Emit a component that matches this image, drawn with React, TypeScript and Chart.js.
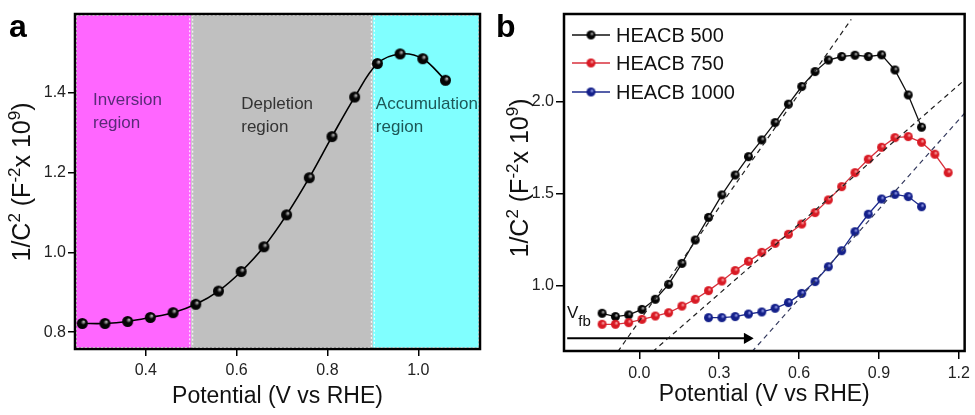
import React, { useEffect, useRef } from 'react';
import { Chart, registerables } from 'chart.js';

Chart.register(...registerables);

// ---- panel a data ----
const A_X = [0.26, 0.31, 0.36, 0.41, 0.46, 0.51, 0.56, 0.61, 0.66, 0.71, 0.76, 0.81, 0.86, 0.91, 0.96, 1.01, 1.06];
const A_Y = [0.822, 0.822, 0.827, 0.837, 0.849, 0.87, 0.903, 0.952, 1.014, 1.094, 1.187, 1.29, 1.389, 1.473, 1.497, 1.485, 1.431];
const A_XTICKS = [0.4, 0.6, 0.8, 1.0];
const A_YTICKS = [0.8, 1.0, 1.2, 1.4];
const REGION_EDGES = [0.244, 0.5, 0.9, 1.136];
const REGION_COLORS = ['#ff66ff', '#c0c0c0', '#80ffff'];
const REGION_TEXT = ['#5a2a78', '#333333', '#1d5858'];
const REGION_LABELS = [['Inversion', 'region'], ['Depletion', 'region'], ['Accumulation', 'region']];

// ---- panel b data ----
const B_X500 = [-0.14, -0.09, -0.04, 0.01, 0.06, 0.11, 0.16, 0.21, 0.26, 0.31, 0.36, 0.41, 0.46, 0.51, 0.56, 0.61, 0.66, 0.71, 0.76, 0.81, 0.86, 0.91, 0.96, 1.01, 1.06];
const B_Y500 = [0.85, 0.832, 0.841, 0.871, 0.926, 1.007, 1.121, 1.248, 1.371, 1.493, 1.601, 1.701, 1.792, 1.886, 1.986, 2.082, 2.163, 2.226, 2.245, 2.252, 2.245, 2.254, 2.172, 2.036, 1.861];
const B_X750 = [-0.14, -0.09, -0.04, 0.01, 0.06, 0.11, 0.16, 0.21, 0.26, 0.31, 0.36, 0.41, 0.46, 0.51, 0.56, 0.61, 0.66, 0.71, 0.76, 0.81, 0.86, 0.91, 0.96, 1.01, 1.06, 1.11, 1.16];
const B_Y750 = [0.79, 0.79, 0.799, 0.817, 0.835, 0.853, 0.889, 0.926, 0.973, 1.025, 1.082, 1.132, 1.181, 1.23, 1.279, 1.335, 1.397, 1.466, 1.538, 1.614, 1.687, 1.752, 1.804, 1.81, 1.779, 1.714, 1.614];
const B_X1000 = [0.26, 0.31, 0.36, 0.41, 0.46, 0.51, 0.56, 0.61, 0.66, 0.71, 0.76, 0.81, 0.86, 0.91, 0.96, 1.01, 1.06];
const B_Y1000 = [0.826, 0.826, 0.832, 0.846, 0.857, 0.877, 0.908, 0.958, 1.022, 1.103, 1.19, 1.293, 1.388, 1.471, 1.496, 1.484, 1.429];
const FIT_500 = [[-0.081, 0.641], [0.796, 2.447]];
const FIT_750 = [[0.05, 0.641], [1.222, 2.118]];
const FIT_1000 = [[0.423, 0.641], [1.222, 1.937]];
const VFB_ARROW = [[-0.271, 0.714], [0.405, 0.714]];
const B_XTICKS = [0.0, 0.3, 0.6, 0.9, 1.2];
const B_YTICKS = [1.0, 1.5, 2.0];
const SERIES_NAMES = ['HEACB 500', 'HEACB 750', 'HEACB 1000'];

const FONT = '"Liberation Sans", Arial, sans-serif';

const zip = (xs: number[], ys: number[]) => xs.map((x, i) => ({ x, y: ys[i] }));
const pts = (p: number[][]) => p.map(([x, y]) => ({ x, y }));

// small shaded ball used as point marker
function makeBall(r: number, base: string, hi: string) {
  const c = document.createElement('canvas');
  const s = Math.ceil(r * 2 + 2);
  c.width = s;
  c.height = s;
  const g = c.getContext('2d')!;
  const cx = s / 2;
  const grad = g.createRadialGradient(cx + r * 0.3, cx - r * 0.35, 0, cx, cx, r);
  grad.addColorStop(0, hi);
  grad.addColorStop(0.45, base);
  grad.addColorStop(1, base);
  g.fillStyle = grad;
  g.beginPath();
  g.arc(cx, cx, r, 0, Math.PI * 2);
  g.fill();
  return c;
}

type Part = { t: string; sup?: boolean; sub?: boolean; size?: number };

function drawRich(ctx: CanvasRenderingContext2D, parts: Part[], size: number, x: number, y: number, center: boolean) {
  const fs = (p: Part) => p.size ?? (p.sup || p.sub ? Math.round(size * 0.66) : size);
  const widths = parts.map((p) => {
    ctx.font = `${fs(p)}px ${FONT}`;
    return ctx.measureText(p.t).width;
  });
  const total = widths.reduce((a, b) => a + b, 0);
  let cx = center ? x - total / 2 : x;
  ctx.textBaseline = 'alphabetic';
  ctx.textAlign = 'left';
  parts.forEach((p, i) => {
    ctx.font = `${fs(p)}px ${FONT}`;
    const dy = p.sup ? -size * 0.42 : p.sub ? size * 0.45 : 0;
    ctx.fillText(p.t, cx, y + dy);
    cx += widths[i];
  });
}

const Y_TITLE: Part[] = [
  { t: '1/C' }, { t: '2', sup: true }, { t: ' (F' }, { t: '-2', sup: true }, { t: 'x 10' }, { t: '9', sup: true }, { t: ')' },
];

function axisTitles(id: string, letter: string, xTitleY: number, yBase: number, yMid: number) {
  return {
    id,
    afterDraw(chart: any) {
      const { ctx, chartArea } = chart;
      ctx.save();
      ctx.fillStyle = '#111';
      ctx.font = `23px ${FONT}`;
      ctx.textAlign = 'center';
      ctx.textBaseline = 'middle';
      ctx.fillText('Potential (V vs RHE)', (chartArea.left + chartArea.right) / 2, xTitleY);
      ctx.save();
      ctx.translate(yBase, yMid);
      ctx.rotate(-Math.PI / 2);
      drawRich(ctx, Y_TITLE, 25, 0, 0, true);
      ctx.restore();
      ctx.font = `bold 32px ${FONT}`;
      ctx.textAlign = 'left';
      ctx.textBaseline = 'alphabetic';
      ctx.fillStyle = '#000';
      ctx.fillText(letter, 9, 37);
      // frame
      ctx.strokeStyle = '#000';
      ctx.lineWidth = 2.5;
      ctx.strokeRect(chartArea.left, chartArea.top, chartArea.right - chartArea.left, chartArea.bottom - chartArea.top);
      ctx.restore();
    },
  };
}

function axes(xMin: number, xMax: number, yMin: number, yMax: number, xt: number[], yt: number[], yWidth: number, xHeight: number, tl: number) {
  const grid = { drawOnChartArea: false, drawTicks: true, tickLength: tl, color: '#000', lineWidth: 1.5 };
  return {
    x: {
      type: 'linear',
      min: xMin,
      max: xMax,
      border: { display: false },
      grid,
      afterBuildTicks: (s: any) => { s.ticks = xt.map((v) => ({ value: v })); },
      afterFit: (s: any) => { s.height = xHeight; },
      ticks: { color: '#222', padding: 5, font: { family: FONT, size: 16 }, callback: (v: any) => Number(v).toFixed(1) },
    },
    y: {
      type: 'linear',
      min: yMin,
      max: yMax,
      border: { display: false },
      grid,
      afterBuildTicks: (s: any) => { s.ticks = yt.map((v) => ({ value: v })); },
      afterFit: (s: any) => { s.width = yWidth; },
      ticks: { color: '#222', padding: 2, font: { family: FONT, size: 16 }, callback: (v: any) => Number(v).toFixed(1) },
    },
  };
}

const PanelA: React.FC = () => {
  const ref = useRef<HTMLCanvasElement>(null);
  useEffect(() => {
    if (!ref.current) return;
    const ball = makeBall(5.5, '#050505', '#d8d8d8');
    const regions = {
      id: 'regions',
      beforeDatasetsDraw(chart: any) {
        const { ctx, chartArea, scales } = chart;
        ctx.save();
        for (let i = 0; i < REGION_COLORS.length; i++) {
          const x0 = scales.x.getPixelForValue(REGION_EDGES[i]);
          const x1 = scales.x.getPixelForValue(REGION_EDGES[i + 1]);
          ctx.fillStyle = REGION_COLORS[i];
          ctx.fillRect(x0, chartArea.top, x1 - x0, chartArea.bottom - chartArea.top);
          ctx.setLineDash([2, 2]);
          ctx.strokeStyle = '#ffffff';
          ctx.lineWidth = 1;
          ctx.strokeRect(x0 + 1.5, chartArea.top + 1.5, x1 - x0 - 3, chartArea.bottom - chartArea.top - 3);
          ctx.setLineDash([]);
        }
        const offs = [18, 50, 3];
        const base = [105, 109, 109];
        ctx.font = `17px ${FONT}`;
        ctx.textAlign = 'left';
        ctx.textBaseline = 'alphabetic';
        REGION_LABELS.forEach((lines, i) => {
          const x0 = scales.x.getPixelForValue(REGION_EDGES[i]) + offs[i];
          ctx.fillStyle = REGION_TEXT[i];
          lines.forEach((s, j) => ctx.fillText(s, x0, base[i] + j * 23));
        });
        ctx.restore();
      },
    };
    const chart = new Chart(ref.current, {
      type: 'scatter',
      data: {
        datasets: [
          {
            data: zip(A_X, A_Y),
            showLine: true,
            borderColor: '#000',
            borderWidth: 1.6,
            tension: 0.35,
            pointStyle: ball as any,
            pointRadius: 5,
          },
        ],
      },
      options: {
        responsive: false,
        animation: false,
        layout: { padding: { top: 14, right: 7, left: 0, bottom: 0 } },
        plugins: { legend: { display: false }, tooltip: { enabled: false } },
        scales: axes(REGION_EDGES[0], REGION_EDGES[3], 0.758, 1.597, A_XTICKS, A_YTICKS, 75, 66, 7) as any,
      },
      plugins: [regions, axisTitles('titlesA', 'a', 397, 30, 182)],
    });
    return () => chart.destroy();
  }, []);
  return <canvas ref={ref} width={487} height={415} style={{ position: 'absolute', left: 0, top: 0 }} />;
};

const PanelB: React.FC = () => {
  const ref = useRef<HTMLCanvasElement>(null);
  useEffect(() => {
    if (!ref.current) return;
    const balls = [
      makeBall(4.5, '#050505', '#d0d0d0'),
      makeBall(4.5, '#d81a24', '#ffc0c0'),
      makeBall(4.5, '#14208a', '#b0b8ff'),
    ];
    const lineColors = ['#111111', '#d8303c', '#1c2a8c'];
    const legend = {
      id: 'legendB',
      afterDraw(chart: any) {
        const { ctx } = chart;
        ctx.save();
        const rows = [35, 63, 92];
        SERIES_NAMES.forEach((name, i) => {
          ctx.strokeStyle = lineColors[i];
          ctx.lineWidth = 1.5;
          ctx.beginPath();
          ctx.moveTo(85, rows[i]);
          ctx.lineTo(123, rows[i]);
          ctx.stroke();
          const b = balls[i];
          ctx.drawImage(b, 104 - b.width / 2, rows[i] - b.height / 2);
          ctx.fillStyle = '#111';
          ctx.font = `20px ${FONT}`;
          ctx.textAlign = 'left';
          ctx.textBaseline = 'middle';
          ctx.fillText(name, 129, rows[i] + 1);
        });
        ctx.fillStyle = '#111';
        drawRich(ctx, [{ t: 'V' }, { t: 'fb', sub: true, size: 15 }], 17, 80, 318, false);
        ctx.restore();
      },
    };
    const fit = (p: number[][], color: string) => ({
      data: pts(p),
      showLine: true,
      borderColor: color,
      borderWidth: 1.2,
      borderDash: [5, 4],
      pointRadius: 0,
    });
    const series = (xs: number[], ys: number[], i: number) => ({
      data: zip(xs, ys),
      showLine: true,
      borderColor: lineColors[i],
      borderWidth: 1.3,
      pointStyle: balls[i] as any,
      pointRadius: 4,
    });
    const chart = new Chart(ref.current, {
      type: 'scatter',
      data: {
        datasets: [
          fit(FIT_500, '#222'),
          fit(FIT_750, '#222'),
          fit(FIT_1000, '#33395e'),
          series(B_X750, B_Y750, 1),
          series(B_X1000, B_Y1000, 2),
          series(B_X500, B_Y500, 0),
          {
            data: pts(VFB_ARROW),
            showLine: true,
            borderColor: '#000',
            borderWidth: 2,
            pointStyle: 'triangle',
            rotation: 90,
            pointRadius: [0, 4.5],
            pointBackgroundColor: '#000',
            pointBorderColor: '#000',
          } as any,
        ],
      },
      options: {
        responsive: false,
        animation: false,
        layout: { padding: { top: 14, right: 7, left: 0, bottom: 0 } },
        plugins: { legend: { display: false }, tooltip: { enabled: false } },
        scales: axes(-0.283, 1.222, 0.645, 2.476, B_XTICKS, B_YTICKS, 77, 64, 8) as any,
      },
      plugins: [legend, axisTitles('titlesB', 'b', 395, 41, 178)],
    });
    return () => chart.destroy();
  }, []);
  return <canvas ref={ref} width={488} height={415} style={{ position: 'absolute', left: 487, top: 0 }} />;
};

export default function App() {
  return (
    <div style={{ position: 'fixed', left: 0, top: 0, width: 975, height: 415, background: '#fff', overflow: 'hidden' }}>
      <PanelA />
      <PanelB />
    </div>
  );
}
